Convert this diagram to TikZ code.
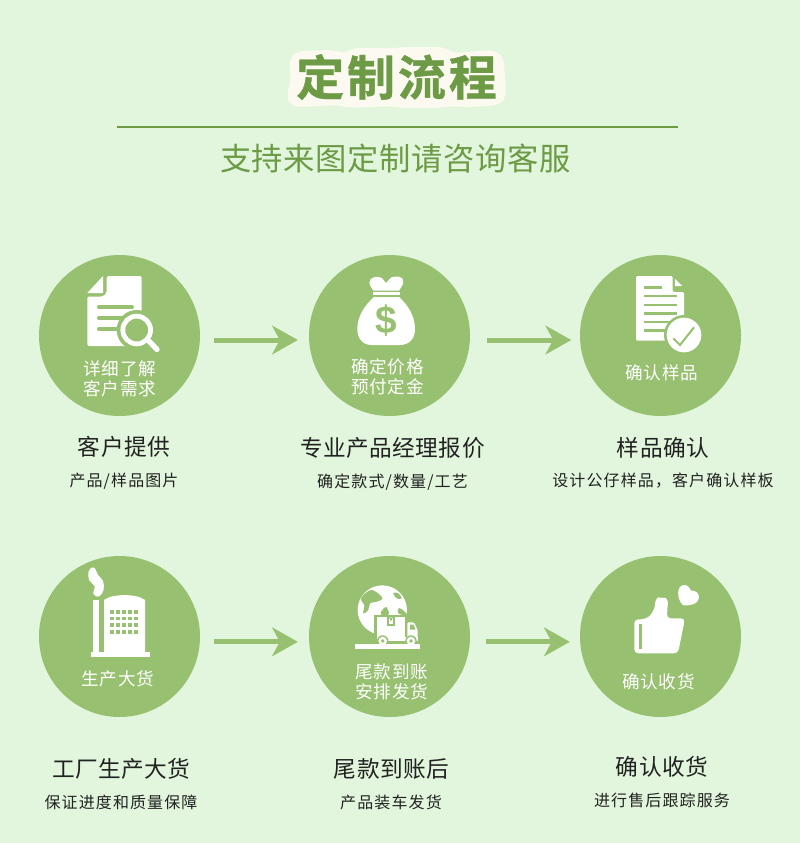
\documentclass[tikz,border=0pt]{standalone}
\usepackage{fontspec}
\usetikzlibrary{arrows.meta}
\setmainfont{Noto Sans CJK SC}
\newfontfamily\ttlfont[LetterSpace=6,BoldFont={Noto Sans CJK SC Bold},BoldFeatures={FakeBold=0.8}]{Noto Sans CJK SC}
\newfontfamily\subfont[LetterSpace=2]{Noto Sans CJK SC}
\newfontfamily\circfont[LetterSpace=4.5]{Noto Sans CJK SC}
\newfontfamily\capfont[LetterSpace=2]{Noto Sans CJK SC}
\newfontfamily\notefont[LetterSpace=7]{Noto Sans CJK SC}
\newfontfamily\dollarfont{Liberation Sans}
\definecolor{bgc}{HTML}{E1F6DC}
\definecolor{disc}{HTML}{97C070}
\definecolor{deep}{HTML}{6C9A45}
\definecolor{halo}{HTML}{FBF9F0}
\definecolor{ink}{HTML}{222222}
\tikzset{
  x=0.75pt,y=-0.75pt,
  stepdisc/.style={circle,fill=disc,minimum size=120.75pt,inner sep=0pt},
  flow/.style={draw=disc,line width=3.75pt,-{Stealth[length=19.5pt,width=22pt,inset=6pt,line width=0pt]}},
  intext/.style={text=white,font=\circfont\fontsize{13.2pt}{15pt}\selectfont,inner sep=0pt},
  captext/.style={text=ink,font=\capfont\fontsize{17pt}{20pt}\selectfont,inner sep=0pt},
  notetext/.style={text=ink,font=\notefont\fontsize{12pt}{14pt}\selectfont,inner sep=0pt},
  gapline/.style={draw=disc,line width=3pt,line cap=round},
  docline/.style={draw=disc,line width=1.9pt},
}
\begin{document}
\begin{tikzpicture}
\useasboundingbox (0,0) rectangle (800,843);
\fill[bgc] (0,0) rectangle (800,843);

% heading
\fill[halo,rounded corners=5pt] (289,60) -- (297,51) -- (335,50) -- (345,54) -- (352,48) -- (395,48) -- (405,47) -- (445,47) -- (452,53) -- (495,50) -- (504,58) -- (506,97) -- (500,105) -- (470,107) -- (450,106) -- (440,108) -- (400,108) -- (390,106) -- (350,108) -- (340,105) -- (300,107) -- (289,105) -- (287,95) -- (291,78) -- cycle;
\node[text=deep,inner sep=0pt,font=\ttlfont\bfseries\fontsize{36pt}{40pt}\selectfont] (title) at (396.5,77) {定制流程};
\draw[draw=deep,line width=1.5pt] (117,127) -- (678,127);
\node[text=deep,inner sep=0pt,font=\subfont\fontsize{23.5pt}{26pt}\selectfont] (subtitle) at (395.5,159) {支持来图定制请咨询客服};

% discs
\node[stepdisc] (c1) at (119.5,335.5) {};
\node[stepdisc] (c2) at (389.5,335.5) {};
\node[stepdisc] (c3) at (660.5,335.5) {};
\node[stepdisc] (c4) at (119.5,636.5) {};
\node[stepdisc] (c5) at (389.5,636.5) {};
\node[stepdisc] (c6) at (660.5,636.5) {};

% arrows
\draw[flow] ([xshift=10.5pt,yshift=-3.4pt]c1.east) -- ([xshift=-8.2pt,yshift=-3.4pt]c2.west);
\draw[flow] ([xshift=12.7pt,yshift=-3.4pt]c2.east) -- ([xshift=-6.4pt,yshift=-3.4pt]c3.west);
\draw[flow] ([xshift=10.5pt,yshift=-4pt]c4.east) -- ([xshift=-8.2pt,yshift=-4pt]c5.west);
\draw[flow] ([xshift=12pt,yshift=-4pt]c5.east) -- ([xshift=-7.5pt,yshift=-4pt]c6.west);

% icon 1: document and magnifier
\fill[white] (87.3,293) -- (103,276) -- (103,293) -- cycle;
\fill[white,rounded corners=1.5pt] (106.7,276) -- (141.7,276) -- (141.7,346) -- (87.3,346) -- (87.3,296.5) -- (103,296.5) -- (106.7,293) -- cycle;
\draw[gapline] (99,307.3) -- (132,307.3);
\draw[gapline] (99,318.3) -- (122,318.3);
\draw[gapline] (99,329) -- (118,329);
\fill[disc] (136.7,330) circle[radius=15pt];
\draw[white,line width=3.6pt] (136.7,330) circle[radius=10.4pt];
\draw[white,line width=4pt,line cap=round] (149,341) -- (157,349.5);

% icon 2: money bag
\fill[white] (369.3,283) .. controls (369,277) and (377,275.5) .. (382,278) -- (386,283) -- (391,277.5) .. controls (396,275.5) and (404,276) .. (403.3,282) .. controls (403,286) and (400,288) .. (399,290.7) -- (373.5,290.7) .. controls (372,288) and (369.5,286) .. (369.3,283) -- cycle;
\fill[white] (373,292.3) rectangle (400,295);
\fill[white] (374,297) -- (399,297) .. controls (408,305) and (415,316) .. (415,329) .. controls (415,339) and (409,345) .. (400,345) -- (372,345) .. controls (363,345) and (357.3,339) .. (357.3,329) .. controls (357.3,316) and (365,305) .. (374,297) -- cycle;
\node[text=disc,inner sep=0pt,font=\dollarfont\bfseries\fontsize{29pt}{32pt}\selectfont] (dollar) at (386,321) {\$};

% icon 3: document and tick
\fill[white,rounded corners=1pt] (636,276) -- (672.7,276) -- (672.7,292) -- (684,292) -- (684,340.7) -- (636,340.7) -- cycle;
\fill[white] (675,279) -- (682,286) -- (675,286) -- cycle;
\draw[docline] (644.3,287.7) -- (661.7,287.7);
\foreach \ly in {296,305,313.3,322,330.7} \draw[docline] (644.3,\ly) -- (676.7,\ly);
\fill[disc] (684,335) circle[radius=15pt];
\fill[white] (684,335) circle[radius=13pt];
\draw[disc,line width=1.5pt] (673.3,338.3) -- (680,345) -- (694,327.3);

% icon 4: factory
\fill[white] (90.7,652.3) rectangle (150,657.3);
\fill[white] (93.3,600) rectangle (99.3,652.5);
\fill[white] (104,652.5) -- (104,600) .. controls (112,593.5) and (137,593.5) .. (145,600) -- (145,652.5) -- cycle;
\foreach \wx in {110,116,122,128,134}
  \foreach \wy in {610,616.5,623.3,630}
    \fill[disc] (\wx,\wy) rectangle ++(3.8,3.8);
\fill[white] plot[smooth cycle,tension=0.7] coordinates {(89,570.5) (94,567.5) (98,575) (103,581) (103.5,590) (99,596.5) (93.5,594) (94.5,586) (89,580)};

% icon 5: globe and truck
\fill[white] (382.3,610) circle[radius=18.5pt];
\fill[disc] plot[smooth cycle,tension=0.6] coordinates {(363.3,595) (371.7,590) (380,595) (382.3,599) (376.7,601.7) (370,603.3) (368.3,610) (363.3,613.3) (364.3,605) (361,600)};
\fill[disc] plot[smooth cycle,tension=0.6] coordinates {(393.3,593) (398.3,593.3) (401.7,598.3) (396.7,598.3)};
\fill[disc] plot[smooth cycle,tension=0.6] coordinates {(381,612) (386,607) (389,613) (388,615) (382,615)};
\fill[disc] plot[smooth cycle,tension=0.6] coordinates {(399,608) (404,611) (407,615) (403,615) (398,613)};
\fill[disc] (374,614.5) rectangle (408,640);
\fill[disc] (405,620) rectangle (420,643);
\fill[white] (376.7,616.7) rectangle (405,636.7);
\fill[white,rounded corners=1pt] (407.3,622.3) -- (414,622.3) -- (417.7,630) -- (417.7,638.3) -- (407.3,638.3) -- cycle;
\fill[disc] (410,624.5) -- (413.5,624.5) -- (415.5,629.5) -- (410,629.5) -- cycle;
\draw[disc,line width=0.9pt] (388,616.7) -- (388,625) -- (394,625) -- (394,616.7);
\draw[disc,line width=0.9pt] (389.5,616.7) -- (391,620) -- (392.5,616.7);
\fill[white] (376.7,636.5) rectangle (417.7,640.5);
\fill[disc] (382.7,641) circle[radius=4.3pt];
\fill[disc] (411,641) circle[radius=4.3pt];
\fill[white] (382.7,641) circle[radius=3.2pt];
\fill[white] (411,641) circle[radius=3.2pt];
\fill[disc] (382.7,641) circle[radius=1.4pt];
\fill[disc] (411,641) circle[radius=1.4pt];
\fill[white] (355,644.3) rectangle (419.5,648.7);

% icon 6: thumb and heart
\fill[white,rounded corners=3pt] (634.3,619.3) -- (645,619.3) .. controls (651,615) and (654,610) .. (655,604) .. controls (656,599) and (659,597.5) .. (661.7,597.7) .. controls (666,598) and (668,601) .. (667.7,606) -- (666.7,618.3) -- (685,618.3) -- (678,653.3) -- (634.3,653.3) -- cycle;
\fill[disc] (639.3,624) rectangle (642,649.3);
\fill[white] (682.7,605) .. controls (676,598) and (677,585) .. (684,585) .. controls (688,585) and (690,588) .. (691,590.5) .. controls (696,590) and (699.5,594) .. (699,598) .. controls (698.5,604) and (689,606.5) .. (682.7,605) -- cycle;

% labels inside discs
\node[intext] (a1) at (120,369) {详细了解};
\node[intext] (a2) at (120,389) {客户需求};
\node[intext] (b1) at (387.5,367) {确定价格};
\node[intext] (b2) at (387.5,387) {预付定金};
\node[intext] (d1) at (662,373) {确认样品};
\node[intext] (e1) at (118,679) {生产大货};
\node[intext] (f1) at (392,672) {尾款到账};
\node[intext] (f2) at (392,692) {安排发货};
\node[intext] (g1) at (658.5,682) {确认收货};

% captions
\node[captext] (cap1) at (124,447) {客户提供};
\node[notetext] (note1) at (124,481) {产品/样品图片};
\node[captext] (cap2) at (392.5,448) {专业产品经理报价};
\node[notetext] (note2) at (392.5,482) {确定款式/数量/工艺};
\node[captext] (cap3) at (663,448) {样品确认};
\node[notetext] (note3) at (663,481) {设计公仔样品，客户确认样板};
\node[captext] (cap4) at (121.5,769) {工厂生产大货};
\node[notetext] (note4) at (121,802) {保证进度和质量保障};
\node[captext] (cap5) at (391.5,769) {尾款到账后};
\node[notetext] (note5) at (391,802) {产品装车发货};
\node[captext] (cap6) at (662,767) {确认收货};
\node[notetext] (note6) at (662,800) {进行售后跟踪服务};
\end{tikzpicture}
\end{document}
